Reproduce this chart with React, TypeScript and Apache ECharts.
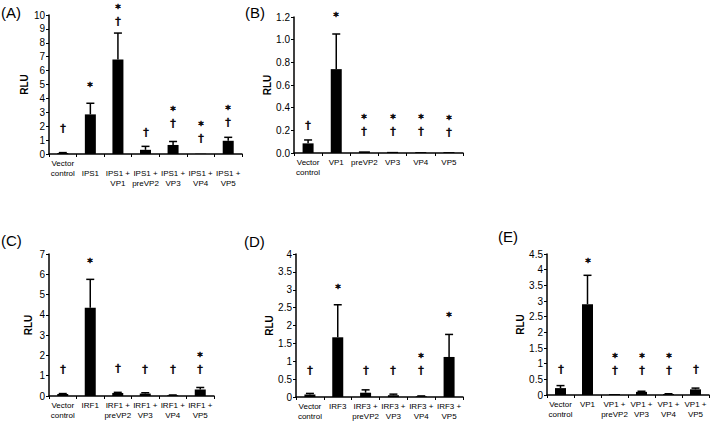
import React, { useEffect, useRef } from 'react';
import * as echarts from 'echarts';

const FONT = '"Liberation Sans", Arial, sans-serif';
const MARK_FONT = '"DejaVu Sans", "Liberation Sans", sans-serif';

// Panel A
const catsA = ['Vector control', 'IPS1', 'IPS1 + VP1', 'IPS1 + preVP2', 'IPS1 + VP3', 'IPS1 + VP4', 'IPS1 + VP5'];
const meanA = [0.07, 2.85, 6.8, 0.3, 0.65, 0.02, 0.95];
const errTopA = [0.1, 3.65, 8.7, 0.55, 0.9, 0.02, 1.2];
const marksA = ['†', '*', '*\n†', '†', '*\n†', '*\n†', '*\n†'];
const markYA = [1.9, 4.9, 10.0, 1.6, 2.65, 1.6, 2.75];

// Panel B
const catsB = ['Vector control', 'VP1', 'preVP2', 'VP3', 'VP4', 'VP5'];
const meanB = [0.085, 0.74, 0.015, 0.01, 0.008, 0.008];
const errTopB = [0.115, 1.05, 0.015, 0.01, 0.008, 0.008];
const marksB = ['†', '*', '*\n†', '*\n†', '*\n†', '*\n†'];
const markYB = [0.25, 1.21, 0.25, 0.25, 0.25, 0.24];

// Panel C
const catsC = ['Vector control', 'IRF1', 'IRF1 + preVP2', 'IRF1 + VP3', 'IRF1 + VP4', 'IRF1 + VP5'];
const meanC = [0.1, 4.35, 0.15, 0.12, 0.04, 0.32];
const errTopC = [0.12, 5.75, 0.18, 0.16, 0.05, 0.42];
const marksC = ['†', '*', '†', '†', '†', '*\n†'];
const markYC = [1.33, 6.6, 1.4, 1.33, 1.33, 1.63];

// Panel D
const catsD = ['Vector control', 'IRF3', 'IRF3 + preVP2', 'IRF3 + VP3', 'IRF3 + VP4', 'IRF3 + VP5'];
const meanD = [0.07, 1.67, 0.12, 0.05, 0.02, 1.12];
const errTopD = [0.1, 2.58, 0.2, 0.08, 0.03, 1.75];
const marksD = ['†', '*', '†', '†', '*\n†', '*'];
const markYD = [0.75, 3.05, 0.75, 0.75, 0.92, 2.27];

// Panel E
const catsE = ['Vector control', 'VP1', 'VP1 + preVP2', 'VP1 + VP3', 'VP1 + VP4', 'VP1 + VP5'];
const meanE = [0.22, 2.9, 0.03, 0.1, 0.03, 0.18];
const errTopE = [0.3, 3.82, 0.03, 0.12, 0.04, 0.22];
const marksE = ['†', '*', '*\n†', '*\n†', '*\n†', '†'];
const markYE = [0.83, 4.25, 1.0, 1.0, 1.0, 0.83];

type Panel = {
  letter: string;
  cats: string[];
  mean: number[];
  errTop: number[];
  marks: string[];
  markY: number[];
  max: number;
  interval: number;
  decimals?: number;
  grid: { left: number; top: number; width: number; height: number };
  nameGap: number;
  letterPos: [number, number];
  shiftLabels?: boolean;
};

const panels: Panel[] = [
  { letter: '(A)', cats: catsA, mean: meanA, errTop: errTopA, marks: marksA, markY: markYA, max: 10, interval: 1,
    grid: { left: 49, top: 15, width: 193, height: 139 }, nameGap: 16, letterPos: [1, 5], shiftLabels: true },
  { letter: '(B)', cats: catsB, mean: meanB, errTop: errTopB, marks: marksB, markY: markYB, max: 1.2, interval: 0.2, decimals: 1,
    grid: { left: 294, top: 17, width: 169, height: 136 }, nameGap: 18, letterPos: [245, 5] },
  { letter: '(C)', cats: catsC, mean: meanC, errTop: errTopC, marks: marksC, markY: markYC, max: 7, interval: 1,
    grid: { left: 49, top: 254, width: 165, height: 142 }, nameGap: 16, letterPos: [1, 233] },
  { letter: '(D)', cats: catsD, mean: meanD, errTop: errTopD, marks: marksD, markY: markYD, max: 4, interval: 0.5,
    grid: { left: 296, top: 254, width: 167, height: 143 }, nameGap: 11, letterPos: [244, 234] },
  { letter: '(E)', cats: catsE, mean: meanE, errTop: errTopE, marks: marksE, markY: markYE, max: 4.5, interval: 0.5,
    grid: { left: 547, top: 254, width: 162, height: 141 }, nameGap: 15, letterPos: [498, 229] },
];

function buildOption() {
  const grid: any[] = [];
  const xAxis: any[] = [];
  const yAxis: any[] = [];
  const series: any[] = [];
  const graphic: any[] = [];

  panels.forEach((p, i) => {
    grid.push({ ...p.grid, containLabel: false, outerBoundsMode: 'none' });
    xAxis.push({
      type: 'category', gridIndex: i, data: p.cats, boundaryGap: true,
      axisLine: { show: true, lineStyle: { color: '#000', width: 1.5 } },
      axisTick: { show: true, length: 3, lineStyle: { color: '#000', width: 1 } },
      axisLabel: {
        interval: 0, fontSize: 8, lineHeight: 10, color: '#000', margin: 4, fontFamily: FONT,
        hideOverlap: false,
        formatter: (v: string) => {
          let s = v.replace('Vector control', 'Vector\ncontrol').replace(' + ', ' +\n');
          if (p.shiftLabels && !v.startsWith('Vector')) s = '\n' + s;
          return s;
        },
      },
      splitLine: { show: false },
    });
    yAxis.push({
      type: 'value', gridIndex: i, min: 0, max: p.max, interval: p.interval,
      axisLine: { show: true, lineStyle: { color: '#000', width: 1.5 } },
      axisTick: { show: true, length: 3, lineStyle: { color: '#000', width: 1 } },
      axisLabel: {
        fontSize: 10, color: '#000', margin: 4, fontFamily: FONT,
        formatter: (v: number) => (p.decimals ? v.toFixed(p.decimals) : String(v)),
      },
      splitLine: { show: false },
      name: 'RLU', nameLocation: 'middle', nameGap: p.nameGap,
      nameTextStyle: { fontWeight: 'bold', fontSize: 10, color: '#000', fontFamily: FONT },
    });
    series.push({
      type: 'bar', xAxisIndex: i, yAxisIndex: i, data: p.mean, barWidth: 11,
      itemStyle: { color: '#000' }, silent: true,
    });
    series.push({
      type: 'custom', xAxisIndex: i, yAxisIndex: i, silent: true,
      encode: { x: 0, y: [1, 2] },
      data: p.mean.map((m, k) => [k, m, p.errTop[k]]).filter((d) => d[2] > d[1]),
      renderItem: (_params: any, api: any) => {
        const x = api.value(0);
        const lo = api.coord([x, api.value(1)]);
        const hi = api.coord([x, api.value(2)]);
        return {
          type: 'group',
          children: [
            { type: 'line', shape: { x1: lo[0], y1: lo[1], x2: hi[0], y2: hi[1] }, style: { stroke: '#000', lineWidth: 1.5 } },
            { type: 'line', shape: { x1: hi[0] - 4, y1: hi[1], x2: hi[0] + 4, y2: hi[1] }, style: { stroke: '#000', lineWidth: 1.5 } },
          ],
        };
      },
    });
    series.push({
      type: 'custom', xAxisIndex: i, yAxisIndex: i, silent: true,
      encode: { x: 0, y: 1 },
      data: p.marks.map((mk, k) => [k, p.markY[k], mk]),
      renderItem: (params: any, api: any) => {
        const pt = api.coord([api.value(0), api.value(1)]);
        const idx = params.dataIndex;
        return {
          type: 'text',
          x: Math.round(pt[0]), y: Math.round(pt[1]),
          style: {
            text: p.marks[idx], fill: '#000', stroke: '#000', lineWidth: 0.5,
            fontSize: 11, lineHeight: 13, fontFamily: MARK_FONT,
            align: 'center', verticalAlign: 'middle',
          },
        };
      },
    });
    graphic.push({
      type: 'text', left: p.letterPos[0], top: p.letterPos[1],
      style: { text: p.letter, fontSize: 15, fill: '#000', fontFamily: FONT },
    });
  });

  return { animation: false, backgroundColor: '#fff', grid, xAxis, yAxis, series, graphic };
}

export default function App() {
  const ref = useRef<HTMLDivElement>(null);
  useEffect(() => {
    if (!ref.current) return;
    const chart = echarts.init(ref.current, null, { renderer: 'svg' });
    chart.setOption(buildOption() as any);
    return () => chart.dispose();
  }, []);
  return (
    <div
      ref={ref}
      style={{ position: 'fixed', left: 0, top: 0, width: 715, height: 423, background: '#fff' }}
    />
  );
}
